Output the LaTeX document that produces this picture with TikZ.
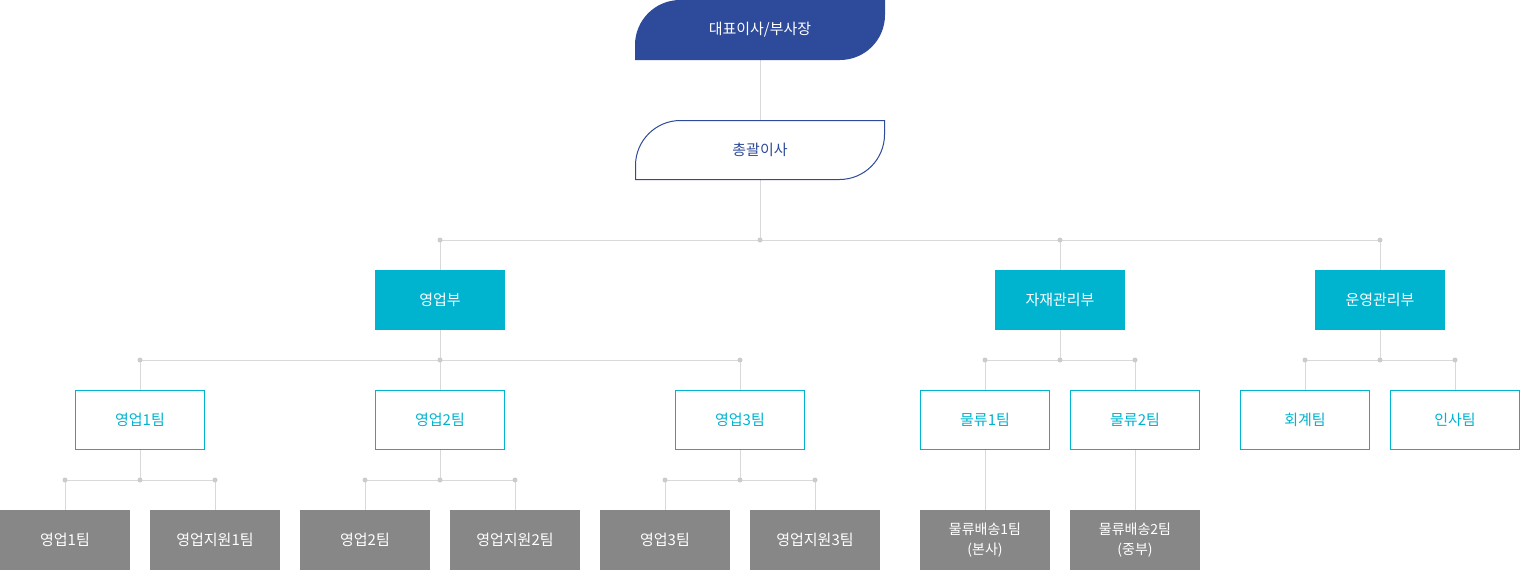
\documentclass[tikz,border=0pt]{standalone}
\usepackage{fontspec}
\setmainfont{Noto Sans CJK KR}
\begin{document}
\begin{tikzpicture}[x=1pt,y=-1pt,
  ln/.style={draw=black!15,line width=1pt},
  dot/.style={circle,fill=black!20,inner sep=0pt,minimum size=5pt},
  cy/.style={fill=cyan!70!blue!80!white,text=white,minimum width=130pt,minimum height=60pt,inner sep=0pt,font=\fontsize{15}{18}\selectfont},
  cyo/.style={draw=cyan!70!blue!80!white,line width=1pt,fill=white,text=cyan!70!blue!90!black,minimum width=129pt,minimum height=59pt,inner sep=0pt,font=\fontsize{15}{18}\selectfont},
  gr/.style={fill=black!47,text=white,minimum width=130pt,minimum height=60pt,inner sep=0pt,align=center,font=\fontsize{15}{18}\selectfont},
  tb/.style={font=\fontsize{15}{18}\selectfont}]
\definecolor{nv}{HTML}{2E4A9B}
\definecolor{cya}{HTML}{00B4D0}
\tikzset{cy/.append style={fill=cya},cyo/.append style={draw=cya,text=cya}}
\useasboundingbox (0,0) rectangle (1520,570);
% connectors
\coordinate (j1) at (760,240);
\draw[ln] (760,60) -- (760,120);
\draw[ln] (760,180) -- (j1);
\draw[ln] (440,240) -- (1380,240);
\foreach \x in {440,1060,1380} \draw[ln] (\x,240) -- (\x,270);
\draw[ln] (440,330) -- (440,390);
\draw[ln] (140,360) -- (740,360);
\foreach \x in {140,740} \draw[ln] (\x,360) -- (\x,390);
\draw[ln] (1060,330) -- (1060,360); \draw[ln] (985,360) -- (1135,360);
\foreach \x in {985,1135} \draw[ln] (\x,360) -- (\x,390);
\draw[ln] (1380,330) -- (1380,360); \draw[ln] (1305,360) -- (1455,360);
\foreach \x in {1305,1455} \draw[ln] (\x,360) -- (\x,390);
\foreach \c/\a/\b in {140/65/215,440/365/515,740/665/815}{
  \draw[ln] (\c,450) -- (\c,480); \draw[ln] (\a,480) -- (\b,480);
  \draw[ln] (\a,480) -- (\a,510); \draw[ln] (\b,480) -- (\b,510);
  \node[dot] at (\c,480) {}; \node[dot] at (\a,480) {}; \node[dot] at (\b,480) {};}
\draw[ln] (985,450) -- (985,510); \draw[ln] (1135,450) -- (1135,510);
\foreach \x in {440,760,1060,1380} \node[dot] at (\x,240) {};
\foreach \x in {140,440,740,985,1060,1135,1305,1380,1455} \node[dot] at (\x,360) {};
% top
\fill[nv] (635,60) -- (635,45) [rounded corners=45pt] -- (635,0) [sharp corners] -- (885,0) [rounded corners=45pt] -- (885,60) [sharp corners] -- cycle;
\node[tb,text=white] (ceo) at (760,30) {대표이사/부사장};
\draw[nv,line width=1pt,fill=white] (635.5,179.5) [rounded corners=45pt] -- (635.5,120.5) [sharp corners] -- (884.5,120.5) [rounded corners=45pt] -- (884.5,179.5) [sharp corners] -- cycle;
\node[tb,text=nv] (gm) at (760,150) {총괄이사};
\node[cy] (d1) at (440,300) {영업부};
\node[cy] (d2) at (1060,300) {자재관리부};
\node[cy] (d3) at (1380,300) {운영관리부};
\node[cyo] (t1) at (140,420) {영업1팀};
\node[cyo] (t2) at (440,420) {영업2팀};
\node[cyo] (t3) at (740,420) {영업3팀};
\node[cyo] (t4) at (985,420) {물류1팀};
\node[cyo] (t5) at (1135,420) {물류2팀};
\node[cyo] (t6) at (1305,420) {회계팀};
\node[cyo] (t7) at (1455,420) {인사팀};
\node[gr] (s1) at (65,540) {영업1팀};
\node[gr] (s2) at (215,540) {영업지원1팀};
\node[gr] (s3) at (365,540) {영업2팀};
\node[gr] (s4) at (515,540) {영업지원2팀};
\node[gr] (s5) at (665,540) {영업3팀};
\node[gr] (s6) at (815,540) {영업지원3팀};
\node[gr,font=\fontsize{14}{20}\selectfont] (s7) at (985,540) {물류배송1팀\\(본사)};
\node[gr,font=\fontsize{14}{20}\selectfont] (s8) at (1135,540) {물류배송2팀\\(중부)};
\end{tikzpicture}
\end{document}
